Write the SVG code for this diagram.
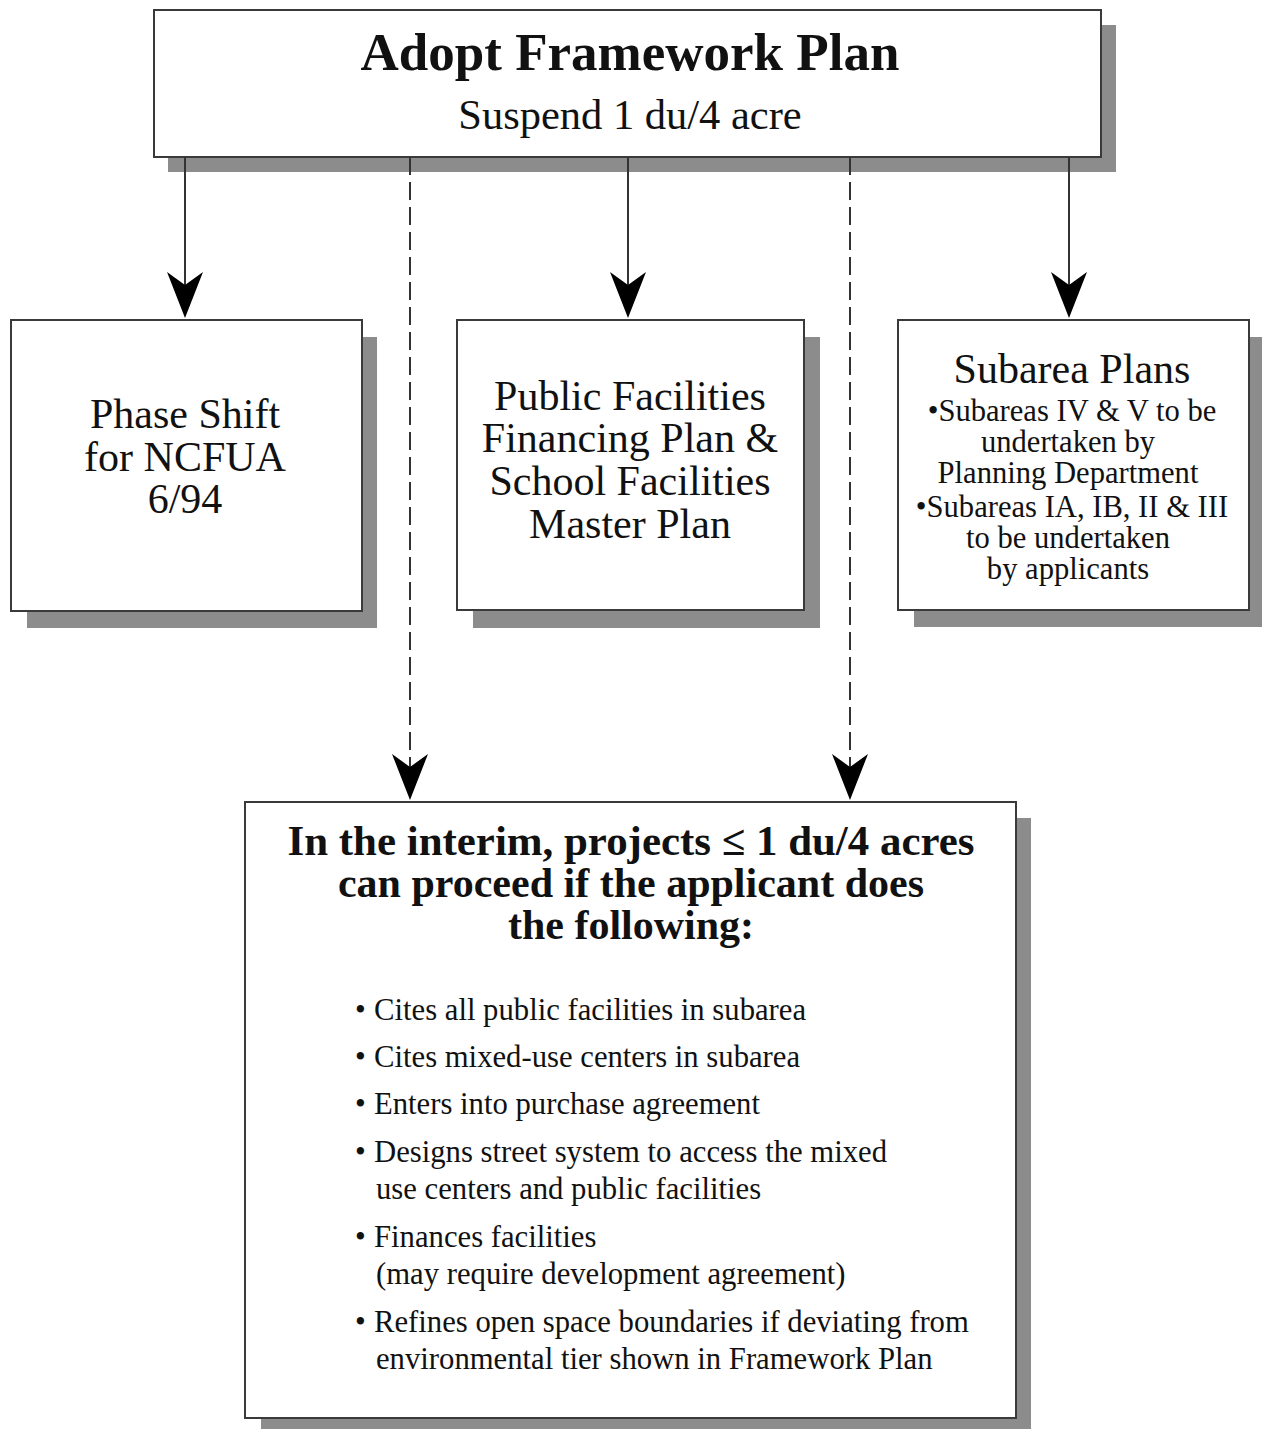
<svg xmlns="http://www.w3.org/2000/svg" width="1262" height="1429" viewBox="0 0 1262 1429">
<defs>
<style>
.shadow{fill:#8c8c8c}
.box{fill:#ffffff;stroke:#3a3a3a;stroke-width:2}
.t{font-family:"Liberation Serif","Times New Roman",serif;fill:#111;text-anchor:middle}
.b{font-weight:bold}
.l{font-family:"Liberation Serif","Times New Roman",serif;fill:#111;font-size:30.7px}
.conn{stroke:#333;stroke-width:2;fill:none}
.dash{stroke-dasharray:18 7}
.head{fill:#000}
</style>
<path id="ah" d="M0,0 L-18,-46 L0,-33 L18,-46 Z"/>
</defs>
<rect width="1262" height="1429" fill="#ffffff"/>

<g id="node-adopt">
<rect class="shadow" x="168" y="25" width="948" height="147"/>
<rect class="box" x="154" y="10" width="947" height="147"/>
<text class="t b" x="630" y="70" font-size="53">Adopt Framework Plan</text>
<text class="t" x="630" y="129" font-size="42.5">Suspend 1 du/4 acre</text>
</g>

<g id="node-phase">
<rect class="shadow" x="27" y="337" width="350" height="291"/>
<rect class="box" x="11" y="320" width="351" height="291"/>
<text class="t" x="185" y="428" font-size="42">Phase Shift</text>
<text class="t" x="185" y="471" font-size="42">for NCFUA</text>
<text class="t" x="185" y="513" font-size="42">6/94</text>
</g>

<g id="node-public">
<rect class="shadow" x="473" y="337" width="347" height="291"/>
<rect class="box" x="457" y="320" width="347" height="290"/>
<text class="t" x="630" y="410" font-size="42">Public Facilities</text>
<text class="t" x="630" y="452" font-size="42">Financing Plan &amp;</text>
<text class="t" x="630" y="495" font-size="42">School Facilities</text>
<text class="t" x="630" y="538" font-size="42">Master Plan</text>
</g>

<g id="node-subarea">
<rect class="shadow" x="914" y="337" width="348" height="290"/>
<rect class="box" x="898" y="320" width="351" height="290"/>
<text class="t" x="1072" y="383" font-size="42">Subarea Plans</text>
<text class="t" x="1072" y="421" font-size="30.6">•Subareas IV &amp; V to be</text>
<text class="t" x="1068" y="452" font-size="30.6">undertaken by</text>
<text class="t" x="1068" y="483" font-size="30.6">Planning Department</text>
<text class="t" x="1072" y="517" font-size="30.6">•Subareas IA, IB, II &amp; III</text>
<text class="t" x="1068" y="548" font-size="30.6">to be undertaken</text>
<text class="t" x="1068" y="579" font-size="30.6">by applicants</text>
</g>

<g id="node-interim">
<rect class="shadow" x="261" y="818" width="770" height="611"/>
<rect class="box" x="245" y="802" width="771" height="616"/>
<text class="t b" x="631" y="855" font-size="42" textLength="687" lengthAdjust="spacingAndGlyphs">In the interim, projects ≤ 1 du/4 acres</text>
<text class="t b" x="631" y="897" font-size="42">can proceed if the applicant does</text>
<text class="t b" x="631" y="939" font-size="42">the following:</text>
<text class="l" x="355" y="1020">•</text><text class="l" x="374" y="1020">Cites all public facilities in subarea</text>
<text class="l" x="355" y="1067">•</text><text class="l" x="374" y="1067">Cites mixed-use centers in subarea</text>
<text class="l" x="355" y="1114">•</text><text class="l" x="374" y="1114">Enters into purchase agreement</text>
<text class="l" x="355" y="1162">•</text><text class="l" x="374" y="1162">Designs street system to access the mixed</text>
<text class="l" x="376" y="1199">use centers and public facilities</text>
<text class="l" x="355" y="1247">•</text><text class="l" x="374" y="1247">Finances facilities</text>
<text class="l" x="376" y="1284">(may require development agreement)</text>
<text class="l" x="355" y="1332">•</text><text class="l" x="374" y="1332">Refines open space boundaries if deviating from</text>
<text class="l" x="376" y="1369">environmental tier shown in Framework Plan</text>
</g>

<g id="connectors">
<line class="conn" x1="185" y1="157" x2="185" y2="290"/>
<use href="#ah" class="head" x="185" y="318"/>
<line class="conn" x1="628" y1="157" x2="628" y2="290"/>
<use href="#ah" class="head" x="628" y="318"/>
<line class="conn" x1="1069" y1="157" x2="1069" y2="290"/>
<use href="#ah" class="head" x="1069" y="318"/>
<line class="conn dash" x1="410" y1="157" x2="410" y2="772"/>
<use href="#ah" class="head" x="410" y="800"/>
<line class="conn dash" x1="850" y1="157" x2="850" y2="772"/>
<use href="#ah" class="head" x="850" y="800"/>
</g>
</svg>
